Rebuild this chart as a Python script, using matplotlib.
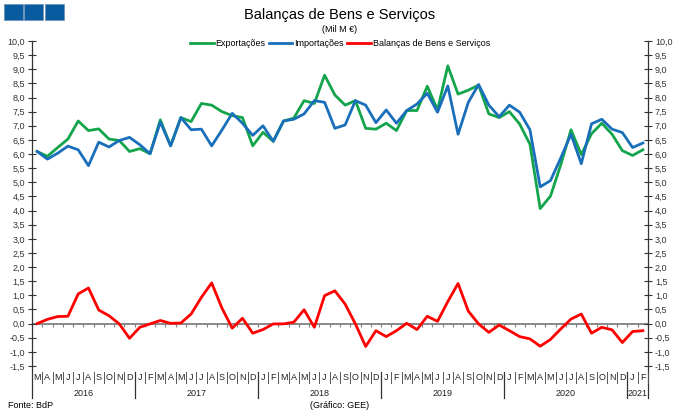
import matplotlib
matplotlib.use('Agg')
import numpy as np
from matplotlib import pyplot as plt
from matplotlib.patches import Rectangle

plt.rcParams['font.family'] = ['Liberation Sans', 'DejaVu Sans']

# Mar 2016 .. Feb 2021, valores mensais (mil milhões de euros)
month_labels = ['M', 'A', 'M', 'J', 'J', 'A', 'S', 'O', 'N', 'D'] + \
    ['J', 'F', 'M', 'A', 'M', 'J', 'J', 'A', 'S', 'O', 'N', 'D'] * 4 + ['J', 'F']
years = ['2016', '2017', '2018', '2019', '2020', '2021']
year_counts = [10, 12, 12, 12, 12, 2]

exportacoes = [6.09, 5.92, 6.23, 6.53, 7.17, 6.83, 6.89, 6.53, 6.48, 6.09,
               6.19, 6.01, 7.21, 6.29, 7.29, 7.15, 7.79, 7.73, 7.50, 7.36,
               7.29, 6.29, 6.77, 6.45, 7.17, 7.27, 7.89, 7.79, 8.79, 8.09,
               7.73, 7.89, 6.91, 6.88, 7.09, 6.83, 7.54, 7.54, 8.40, 7.56,
               9.12, 8.12, 8.26, 8.44, 7.42, 7.29, 7.50, 7.06, 6.35, 4.07,
               4.51, 5.62, 6.86, 5.98, 6.72, 7.09, 6.70, 6.12, 5.95, 6.15]
importacoes = [6.09, 5.82, 6.03, 6.28, 6.15, 5.59, 6.42, 6.25, 6.48, 6.59,
               6.33, 6.01, 7.13, 6.29, 7.29, 6.86, 6.88, 6.29, 6.85, 7.44,
               7.09, 6.66, 7.00, 6.45, 7.17, 7.23, 7.42, 7.89, 7.83, 6.91,
               7.03, 7.89, 7.73, 7.11, 7.56, 7.09, 7.54, 7.77, 8.15, 7.48,
               8.41, 6.70, 7.83, 8.46, 7.73, 7.32, 7.73, 7.48, 6.86, 4.84,
               5.06, 5.86, 6.70, 5.66, 7.07, 7.23, 6.88, 6.76, 6.23, 6.39]
balanca = [0.00, 0.15, 0.25, 0.26, 1.05, 1.26, 0.48, 0.28, -0.01, -0.52,
           -0.13, -0.01, 0.11, 0.01, 0.02, 0.34, 0.93, 1.44, 0.55, -0.16,
           0.19, -0.34, -0.21, -0.01, -0.01, 0.05, 0.49, -0.13, 0.99, 1.16,
           0.69, -0.01, -0.81, -0.25, -0.46, -0.25, 0.01, -0.21, 0.26, 0.08,
           0.78, 1.42, 0.44, -0.01, -0.31, -0.05, -0.25, -0.46, -0.54, -0.80,
           -0.56, -0.19, 0.16, 0.34, -0.34, -0.13, -0.22, -0.67, -0.28, -0.25]

GREEN = '#13a54b'
BLUE = '#1a6fbb'
RED = '#ff0000'
GRAY = '#808080'

fig = plt.figure(figsize=(6.8, 4.16), dpi=100)
ax = fig.add_axes([32 / 680, 50 / 416, 616 / 680, 325 / 416])

x = np.arange(len(exportacoes))
ax.axhline(0, color=GRAY, lw=1.3, zorder=1)
ax.vlines(np.arange(-0.5, len(x), 1), -0.12, 0, color=GRAY, lw=0.8, zorder=1)

ax.plot(x, exportacoes, color=GREEN, lw=2, label='Exportações', zorder=3)
ax.plot(x, importacoes, color=BLUE, lw=2, label='Importações', zorder=3)
ax.plot(x, balanca, color=RED, lw=2, label='Balanças de Bens e Serviços', zorder=3)

ax.set_xlim(-0.5, len(x) - 0.5)
ax.set_ylim(-1.5, 10.0)
yt = np.arange(-1.5, 10.01, 0.5)
ax.set_yticks(yt)
ax.set_yticklabels([f'{v:.1f}'.replace('.', ',') for v in yt])
ax.tick_params(axis='y', direction='inout', length=6, width=0.8, labelsize=6.5,
               left=True, right=True, labelleft=True, labelright=True, pad=2, colors='#333333')
ax.set_xticks([])
for s in ax.spines.values():
    s.set_visible(False)

# eixos verticais prolongados até à zona das categorias
for xs in (-0.5, len(x) - 0.5):
    ax.plot([xs, xs], [-0.099, 1.0], transform=ax.get_xaxis_transform(),
            color='#333333', lw=0.9, clip_on=False)

# rótulos dos meses e separadores
trans = ax.get_xaxis_transform()
for i, m in enumerate(month_labels):
    ax.text(i, -0.034, m, transform=trans, ha='center', va='center', fontsize=6.5, color='#222222')
    ax.plot([i + 0.5, i + 0.5], [-0.018, -0.052], transform=trans, color='#555555', lw=0.7, clip_on=False)

start = 0
for yr, n in zip(years, year_counts):
    ax.text(start + (n - 1) / 2, -0.084, yr, transform=trans, ha='center', va='center',
            fontsize=6.5, color='#222222')
    end = start + n - 0.5
    if end < len(x) - 0.5:
        ax.plot([end, end], [-0.018, -0.099], transform=trans, color='#333333', lw=0.9, clip_on=False)
    start += n

ax.legend(loc='center', bbox_to_anchor=(0.5, 1 - 44 / 416), bbox_transform=fig.transFigure,
          ncol=3, frameon=False, fontsize=6.5, handlelength=2.6, handletextpad=0.2,
          columnspacing=0.4, borderpad=0)

fig.text(0.5, 1 - 15 / 416, 'Balanças de Bens e Serviços', ha='center', va='center', fontsize=10.5)
fig.text(0.5, 1 - 29 / 416, '(Mil M €)', ha='center', va='center', fontsize=6.5)
fig.text(8 / 680, 1 - 406 / 416, 'Fonte: BdP', ha='left', va='center', fontsize=6.5)
fig.text(340 / 680, 1 - 406 / 416, '(Gráfico: GEE)', ha='center', va='center', fontsize=6.5)

# quadrados azuis no canto superior esquerdo
for x0 in (4, 24.5, 45):
    fig.patches.append(Rectangle((x0 / 680, 1 - 20 / 416), 18.5 / 680, 16 / 416,
                                 transform=fig.transFigure, facecolor='#0a5aa0',
                                 edgecolor='#6a8fb5', lw=0.5))

fig.savefig('out.png', dpi=100)
